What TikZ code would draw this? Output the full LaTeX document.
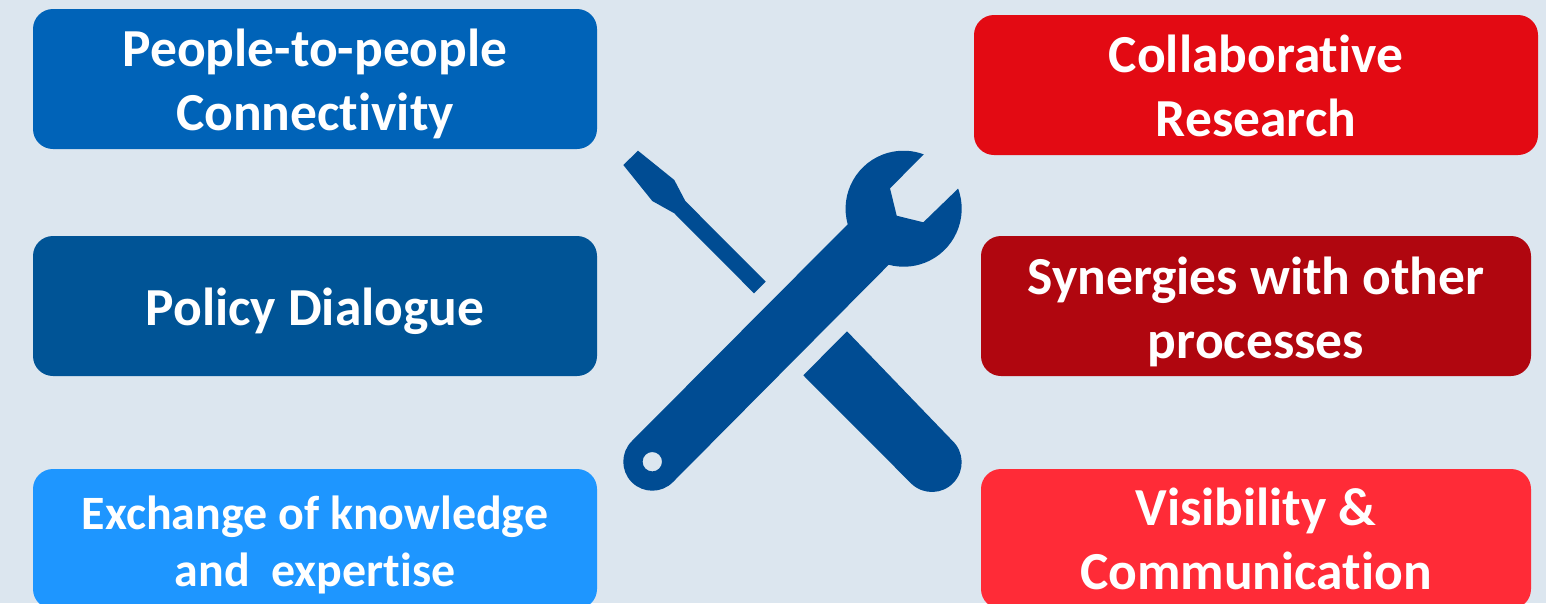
\documentclass[tikz,border=0pt]{standalone}
\usepackage{fontspec}
\setmainfont{Carlito}[Ligatures=NoCommon]
\usepackage{xcolor}
\definecolor{paneBg}{HTML}{DCE6EF}
\definecolor{toolBlue}{HTML}{004C93}
\definecolor{blueA}{HTML}{0063B8}
\definecolor{blueB}{HTML}{005496}
\definecolor{blueC}{HTML}{1E96FF}
\definecolor{redA}{HTML}{E30A13}
\definecolor{redB}{HTML}{B0060F}
\definecolor{redC}{HTML}{FF2B37}
\newcommand{\lowerby}[1]{\rule{0pt}{#1pt}}

\begin{document}
\begin{tikzpicture}[x=1pt, y=-1pt,
  tile/.style={rectangle, rounded corners=20pt, text=white, align=center, inner sep=0pt,
               minimum height=140pt, font=\fontsize{53.5}{64}\selectfont\bfseries},
  lefttile/.style={tile, minimum width=564pt},
  righttile/.style={tile, minimum width=550pt},
  tool/.style={fill=toolBlue, draw=none}
]
  \useasboundingbox (0,0) rectangle (1546,603);
  \fill[paneBg] (0,0) rectangle (1546,603);
  \clip (0,0) rectangle (1546,603);

  \node[lefttile, fill=blueA] (people) at (315,79)  {\lowerby{47}People-to-people\\Connectivity};
  \node[lefttile, fill=blueB] (policy) at (315,306) {\lowerby{49}Policy Dialogue};
  \node[lefttile, fill=blueC, font=\fontsize{47.9}{57}\selectfont\bfseries] (exchange) at (315,539) {\lowerby{45}Exchange of knowledge\\and\ \ expertise};

  \node[righttile, minimum width=564pt, fill=redA] (research) at (1256,85) {\lowerby{39}Collaborative\\Research};
  \node[righttile, fill=redB] (synergies) at (1256,306) {\lowerby{49}Synergies with other\\processes};
  \node[righttile, fill=redC] (visibility) at (1256,539) {Visibility \&\\Communication};

  % screwdriver
  \fill[tool] (638,150.7) -- (623.3,165) -- (652.3,201) -- (674.3,213.3) -- (754,293.3)
    -- (765.7,281.7) -- (685.3,201) -- (674.3,180) -- cycle;

  % wrench
  \fill[tool, even odd rule] (958.1,188.6) arc[start angle=-20.3, end angle=105, radius=58]
    -- (672.8,482.2) arc[start angle=45, end angle=225, radius=29]
    -- (847.7,224.3) arc[start angle=164.4, end angle=290.4, radius=58]
    -- (890,188.3) -- (896.7,215.7) -- (923.3,222.3) -- cycle
    (652.3,461.7) circle[radius=9.7];

  % handle behind the wrench
  \fill[tool] (847,331.3) -- (803.3,375.3) -- (911.7,484)
    arc[start angle=133, end angle=-47, radius=29.7] -- cycle;
\end{tikzpicture}
\end{document}
